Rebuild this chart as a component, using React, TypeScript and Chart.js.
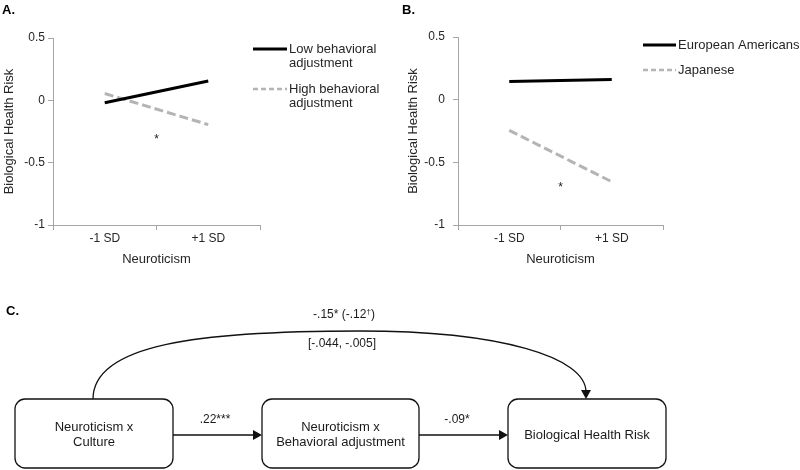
import React, { useEffect, useRef } from "react";
import { Chart, registerables } from "chart.js";

Chart.register(...registerables);

// ---------- data ----------
const categories = ["-1 SD", "+1 SD"];
const yTickValues = [0.5, 0, -0.5, -1];

const lowBehavioralAdjustment = [-0.02, 0.155];
const highBehavioralAdjustment = [0.055, -0.195];
const europeanAmericans = [0.145, 0.16];
const japanese = [-0.245, -0.655];

const starValueA = -0.29;
const starValueB = -0.675;

const legendNamesA = [["Low behavioral", "adjustment"], ["High behavioral", "adjustment"]];
const legendNamesB = [["European Americans"], ["Japanese"]];

const boxLabels = [["Neuroticism x", "Culture"], ["Neuroticism x", "Behavioral adjustment"], ["Biological Health Risk"]];
const pathLabels = [".22***", "-.09*"];
const directEffectLabel = "-.15* (-.12†)";
const indirectCILabel = "[-.044, -.005]";

// ---------- style ----------
const FONT = "'Liberation Sans', Arial, Helvetica, sans-serif";
const AXIS_COLOR = "#a6a6a6";
const TEXT_COLOR = "#262626";
const GRAY_LINE = "#b4b4b4";

Chart.defaults.font.family = FONT;
Chart.defaults.color = TEXT_COLOR;

const panelDecor = {
  id: "panelDecor",
  afterDraw(chart: any, _args: any, opts: any) {
    const ctx = chart.ctx;
    const xs = chart.scales.x;
    const ys = chart.scales.y;
    ctx.save();
    // panel letter
    ctx.fillStyle = "#000";
    ctx.font = `bold 13px ${FONT}`;
    ctx.textAlign = "left";
    ctx.textBaseline = "middle";
    ctx.fillText(opts.letter, opts.letterX, opts.letterY);
    // significance star
    const sx = (xs.getPixelForValue(0) + xs.getPixelForValue(1)) / 2;
    const sy = ys.getPixelForValue(opts.star);
    ctx.font = `12px ${FONT}`;
    ctx.textAlign = "center";
    ctx.fillStyle = "#222";
    ctx.fillText("*", sx, sy + 3);
    // legend
    chart.data.datasets.forEach((ds: any, i: number) => {
      const row = opts.rows[i];
      ctx.beginPath();
      ctx.strokeStyle = ds.borderColor;
      ctx.lineWidth = ds.borderDash && ds.borderDash.length ? 2.5 : 3;
      ctx.setLineDash(ds.borderDash && ds.borderDash.length ? [5, 3] : []);
      ctx.moveTo(opts.lineX0, row);
      ctx.lineTo(opts.lineX1, row);
      ctx.stroke();
      ctx.setLineDash([]);
      ctx.fillStyle = TEXT_COLOR;
      ctx.font = `13px ${FONT}`;
      ctx.textAlign = "left";
      ctx.textBaseline = "middle";
      opts.names[i].forEach((t: string, k: number) => {
        ctx.fillText(t, opts.textX, row + k * 14.5);
      });
    });
    ctx.restore();
  },
};

function makeLineChart(canvas: HTMLCanvasElement, cfg: any) {
  return new Chart(canvas, {
    type: "line",
    data: {
      labels: categories,
      datasets: cfg.series.map((s: any) => ({
        label: s.label,
        data: s.values,
        borderColor: s.color,
        borderWidth: 3,
        borderDash: s.dash,
        pointRadius: 0,
        fill: false,
        tension: 0,
      })),
    },
    options: {
      responsive: false,
      animation: false,
      events: [],
      layout: { padding: { top: cfg.top, right: cfg.right, bottom: 20, left: 0 } },
      plugins: {
        legend: { display: false },
        tooltip: { enabled: false },
        panelDecor: cfg.decor,
      } as any,
      scales: {
        x: {
          type: "category",
          offset: true,
          grid: { offset: true, drawOnChartArea: false, tickLength: 5, color: AXIS_COLOR },
          border: { color: AXIS_COLOR, width: 1 },
          ticks: { font: { size: 12 }, color: TEXT_COLOR, padding: 1, maxRotation: 0 },
          title: { display: true, text: "Neuroticism", font: { size: 13 }, color: TEXT_COLOR, padding: { top: 0, bottom: 3 } },
          afterFit: (s: any) => {
            s.height = 45;
          },
        },
        y: {
          type: "linear",
          min: -1,
          max: 0.5,
          afterBuildTicks: (s: any) => {
            s.ticks = yTickValues.map((v) => ({ value: v }));
          },
          grid: { drawOnChartArea: false, tickLength: 5, color: AXIS_COLOR },
          border: { color: AXIS_COLOR, width: 1 },
          ticks: { font: { size: 12 }, color: TEXT_COLOR, padding: cfg.tickPad, callback: (v: any) => String(v) },
          title: { display: true, text: "Biological Health Risk", font: { size: 13 }, color: TEXT_COLOR, padding: { top: cfg.titlePad, bottom: 0 } },
          afterFit: (s: any) => {
            s.width = cfg.left;
          },
        },
      } as any,
    },
    plugins: [panelDecor as any],
  });
}

// ---------- diagram (panel C) ----------
const diagramLayout = {
  boxes: [
    { x0: 15, x1: 173 },
    { x0: 262, x1: 419 },
    { x0: 508, x1: 666 },
  ],
  boxTop: 109,
  boxBottom: 178,
  radius: 10,
  midY: 145,
  curveStartX: 93,
  curvePeak: { x: 360, y: 41 },
  curveEndX: 586,
  pathLabelY: 130,
  pathLabelX: [215, 457],
  directLabel: { x: 344, y: 25 },
  ciLabel: { x: 342, y: 54 },
  letter: { x: 6, y: 21 },
};

function drawArrowHead(ctx: CanvasRenderingContext2D, tipX: number, tipY: number, dir: "right" | "down") {
  ctx.beginPath();
  if (dir === "right") {
    ctx.moveTo(tipX, tipY);
    ctx.lineTo(tipX - 9, tipY - 5);
    ctx.lineTo(tipX - 9, tipY + 5);
  } else {
    ctx.moveTo(tipX, tipY);
    ctx.lineTo(tipX - 5, tipY - 9);
    ctx.lineTo(tipX + 5, tipY - 9);
  }
  ctx.closePath();
  ctx.fill();
}

const diagramPlugin = {
  id: "diagramPlugin",
  afterDraw(chart: any) {
    const ctx: CanvasRenderingContext2D = chart.ctx;
    const X = (v: number) => chart.scales.x.getPixelForValue(v);
    const Y = (v: number) => chart.scales.y.getPixelForValue(v);
    const L = diagramLayout;
    ctx.save();
    ctx.strokeStyle = "#111";
    ctx.fillStyle = "#111";
    ctx.lineWidth = 1.3;

    // boxes
    L.boxes.forEach((b, i) => {
      const x0 = X(b.x0), x1 = X(b.x1), y0 = Y(L.boxTop), y1 = Y(L.boxBottom);
      ctx.beginPath();
      (ctx as any).roundRect(x0, y0, x1 - x0, y1 - y0, L.radius);
      ctx.stroke();
      ctx.font = `13px ${FONT}`;
      ctx.textAlign = "center";
      ctx.textBaseline = "middle";
      ctx.fillStyle = "#1a1a1a";
      const lines = boxLabels[i];
      const cx = (x0 + x1) / 2;
      const lh = 15;
      lines.forEach((t, k) => {
        ctx.fillText(t, cx, Y(L.midY) + (k - (lines.length - 1) / 2) * lh);
      });
    });

    // straight arrows
    ctx.fillStyle = "#111";
    for (let i = 0; i < 2; i++) {
      const x0 = X(L.boxes[i].x1);
      const x1 = X(L.boxes[i + 1].x0);
      const y = Y(L.midY);
      ctx.beginPath();
      ctx.moveTo(x0, y);
      ctx.lineTo(x1 - 6, y);
      ctx.stroke();
      drawArrowHead(ctx, x1, y, "right");
      ctx.font = `12px ${FONT}`;
      ctx.textAlign = "center";
      ctx.textBaseline = "middle";
      ctx.fillStyle = "#1a1a1a";
      ctx.fillText(pathLabels[i], X(L.pathLabelX[i]), Y(L.pathLabelY));
      ctx.fillStyle = "#111";
    }

    // curved direct path
    const sx = X(L.curveStartX), sy = Y(L.boxTop);
    const px = X(L.curvePeak.x), py = Y(L.curvePeak.y);
    const ex = X(L.curveEndX), ey = Y(L.boxTop);
    ctx.beginPath();
    ctx.moveTo(sx, sy);
    ctx.bezierCurveTo(sx, sy - 55, X(200), py, px, py);
    ctx.bezierCurveTo(X(500), py, ex, ey - 42, ex, ey - 7);
    ctx.stroke();
    drawArrowHead(ctx, ex, ey, "down");

    // direct effect label with superscript dagger
    ctx.fillStyle = "#1a1a1a";
    ctx.textBaseline = "middle";
    ctx.textAlign = "left";
    const parts = directEffectLabel.split("†");
    ctx.font = `12px ${FONT}`;
    const w0 = ctx.measureText(parts[0]).width;
    const w2 = ctx.measureText(parts[1] || "").width;
    ctx.font = `8px ${FONT}`;
    const w1 = ctx.measureText("†").width;
    const total = w0 + w1 + w2;
    let tx = X(L.directLabel.x) - total / 2;
    const ty = Y(L.directLabel.y);
    ctx.font = `12px ${FONT}`;
    ctx.fillText(parts[0], tx, ty);
    tx += w0;
    ctx.font = `8px ${FONT}`;
    ctx.fillText("†", tx, ty - 3);
    tx += w1;
    ctx.font = `12px ${FONT}`;
    ctx.fillText(parts[1] || "", tx, ty);

    ctx.textAlign = "center";
    ctx.fillText(indirectCILabel, X(L.ciLabel.x), Y(L.ciLabel.y));

    // panel letter
    ctx.fillStyle = "#000";
    ctx.font = `bold 13px ${FONT}`;
    ctx.textAlign = "left";
    ctx.fillText("C.", X(L.letter.x), Y(L.letter.y));
    ctx.restore();
  },
};

function makeDiagram(canvas: HTMLCanvasElement) {
  return new Chart(canvas, {
    type: "scatter",
    data: { datasets: [] },
    options: {
      responsive: false,
      animation: false,
      events: [],
      layout: { padding: 0 },
      plugins: { legend: { display: false }, tooltip: { enabled: false } },
      scales: {
        x: { type: "linear", min: 0, max: 800, display: false },
        y: { type: "linear", min: 0, max: 180, reverse: true, display: false },
      },
    },
    plugins: [diagramPlugin as any],
  });
}

export default function App() {
  const refA = useRef<HTMLCanvasElement>(null);
  const refB = useRef<HTMLCanvasElement>(null);
  const refC = useRef<HTMLCanvasElement>(null);

  useEffect(() => {
    const a = makeLineChart(refA.current!, {
      left: 53,
      top: 38,
      right: 140,
      tickPad: 3,
      titlePad: 2,
      series: [
        { label: legendNamesA[0].join(" "), values: lowBehavioralAdjustment, color: "#000000", dash: [] },
        { label: legendNamesA[1].join(" "), values: highBehavioralAdjustment, color: GRAY_LINE, dash: [9, 4] },
      ],
      decor: {
        letter: "A.",
        letterX: 2,
        letterY: 10,
        star: starValueA,
        rows: [49, 89],
        lineX0: 253,
        lineX1: 287,
        textX: 289,
        names: legendNamesA,
      },
    });
    const b = makeLineChart(refB.current!, {
      left: 58,
      top: 37,
      right: 137,
      tickPad: 8,
      titlePad: 6,
      series: [
        { label: legendNamesB[0].join(" "), values: europeanAmericans, color: "#000000", dash: [] },
        { label: legendNamesB[1].join(" "), values: japanese, color: GRAY_LINE, dash: [9, 4] },
      ],
      decor: {
        letter: "B.",
        letterX: 2,
        letterY: 10,
        star: starValueB,
        rows: [45, 70],
        lineX0: 243,
        lineX1: 276,
        textX: 278,
        names: legendNamesB,
      },
    });
    const c = makeDiagram(refC.current!);
    return () => {
      a.destroy();
      b.destroy();
      c.destroy();
    };
  }, []);

  return (
    <div style={{ position: "absolute", left: 0, top: 0, width: 800, height: 470, background: "#fff" }}>
      <canvas ref={refA} width={400} height={290} style={{ position: "absolute", left: 0, top: 0, width: 400, height: 290 }} />
      <canvas ref={refB} width={400} height={290} style={{ position: "absolute", left: 400, top: 0, width: 400, height: 290 }} />
      <canvas ref={refC} width={800} height={180} style={{ position: "absolute", left: 0, top: 290, width: 800, height: 180 }} />
    </div>
  );
}
